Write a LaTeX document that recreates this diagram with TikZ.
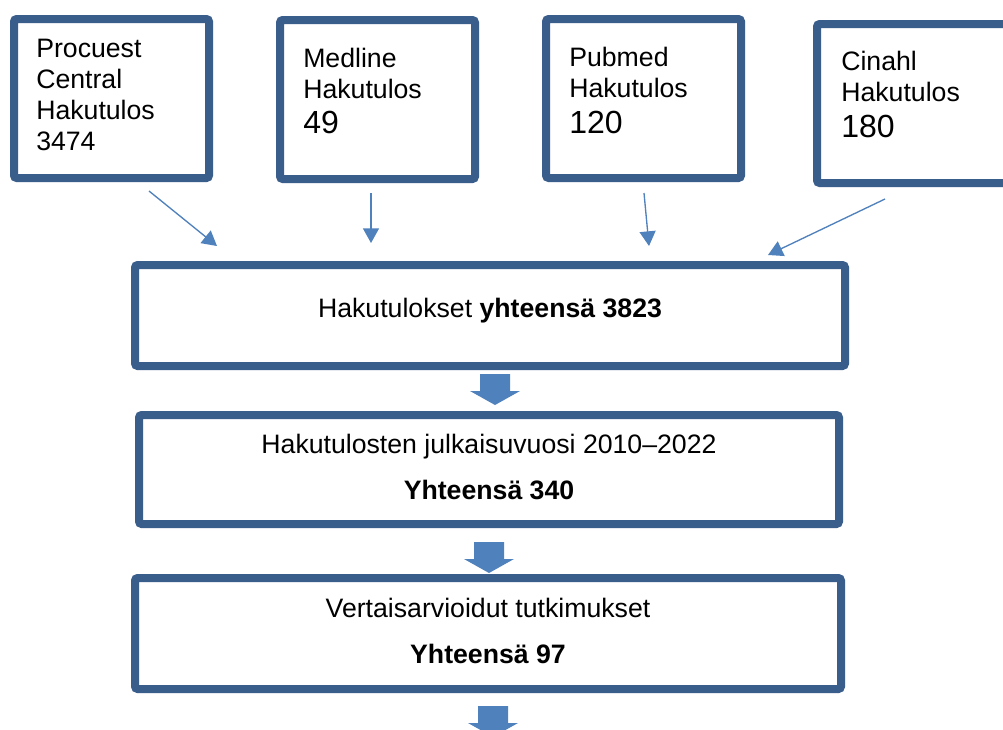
\documentclass[tikz,border=0pt]{standalone}
\usepackage{fontspec}
\setmainfont{Liberation Sans}
\usetikzlibrary{arrows.meta,fit}
\definecolor{boxblue}{HTML}{3A5E8C}
\definecolor{arrblue}{HTML}{4F81BD}
\begin{document}
\begin{tikzpicture}[x=0.75pt,y=-0.75pt,
  frame/.style={draw=boxblue, line width=6pt, rounded corners=2pt, fill=white, inner sep=0pt},
  txt/.style={anchor=base west, inner sep=0pt, font=\fontsize{20}{23}\selectfont},
  big/.style={anchor=base west, inner sep=0pt, font=\fontsize{24}{28}\selectfont},
  ctxt/.style={anchor=base, inner sep=0pt, font=\fontsize{20}{23}\selectfont},
  link/.style={draw=arrblue, line width=1pt, -{Triangle[length=11pt,width=12pt]}},
  blockarrow/.pic={\fill[arrblue] (-15,0) -- (15,0) -- (15,17) -- (25,17) -- (0,31) -- (-25,17) -- (-15,17) -- cycle;}]
\clip (0,0) rectangle (1003,729);
\fill[white] (0,0) rectangle (1003,729);

% corner coordinates of the boxes
\coordinate (a1) at (14,19);   \coordinate (a2) at (209,178);
\coordinate (b1) at (280,20);  \coordinate (b2) at (475,179);
\coordinate (c1) at (546,19);  \coordinate (c2) at (741,178);
\coordinate (d1) at (817,24);  \coordinate (d2) at (1020,183);
\coordinate (m1a) at (135,265); \coordinate (m1b) at (845,366);
\coordinate (m2a) at (139,415); \coordinate (m2b) at (839,524);
\coordinate (m3a) at (135,578); \coordinate (m3b) at (841,689);

\node[frame, fit=(a1)(a2)] (A) {};
\node[frame, fit=(b1)(b2)] (B) {};
\node[frame, fit=(c1)(c2)] (C) {};
\node[frame, fit=(d1)(d2)] (D) {};
\node[frame, fit=(m1a)(m1b)] (M1) {};
\node[frame, fit=(m2a)(m2b)] (M2) {};
\node[frame, fit=(m3a)(m3b)] (M3) {};

% texts of the source boxes
\node[txt] (ta1) at (36,57) {Procuest};
\node[txt] (ta2) at (36,88) {Central};
\node[txt] (ta3) at (36,119) {Hakutulos};
\node[txt] (ta4) at (36,150) {3474};

\node[txt] (tb1) at (303,67) {Medline};
\node[txt] (tb2) at (303,98) {Hakutulos};
\node[big] (tb3) at (303,133) {49};

\node[txt] (tc1) at (569,66) {Pubmed};
\node[txt] (tc2) at (569,97) {Hakutulos};
\node[big] (tc3) at (569,133) {120};

\node[txt] (td1) at (841,70) {Cinahl};
\node[txt] (td2) at (841,101) {Hakutulos};
\node[big] (td3) at (841,137) {180};

% texts of the main boxes
\node[ctxt] (tm1) at (490,317) {Hakutulokset \textbf{yhteensä 3823}};
\node[ctxt] (tm2a) at (489,453) {Hakutulosten julkaisuvuosi 2010–2022};
\node[ctxt] (tm2b) at (489,499) {\textbf{Yhteensä 340}};
\node[ctxt] (tm3a) at (488,617) {Vertaisarvioidut tutkimukset};
\node[ctxt] (tm3b) at (488,663) {\textbf{Yhteensä 97}};

% thin arrows
\coordinate (s1) at (149,191); \coordinate (e1) at (217,246);
\coordinate (s2) at (371,193); \coordinate (e2) at (371,243);
\coordinate (s3) at (644,193); \coordinate (e3) at (649,246);
\coordinate (s4) at (885,199); \coordinate (e4) at (768,255);
\draw[link] (s1) -- (e1);
\draw[link] (s2) -- (e2);
\draw[link] (s3) -- (e3);
\draw[link] (s4) -- (e4);

% block arrows
\pic at (495,374) {blockarrow};
\pic at (489,542) {blockarrow};
\pic at (493,706) {blockarrow};
\end{tikzpicture}
\end{document}
